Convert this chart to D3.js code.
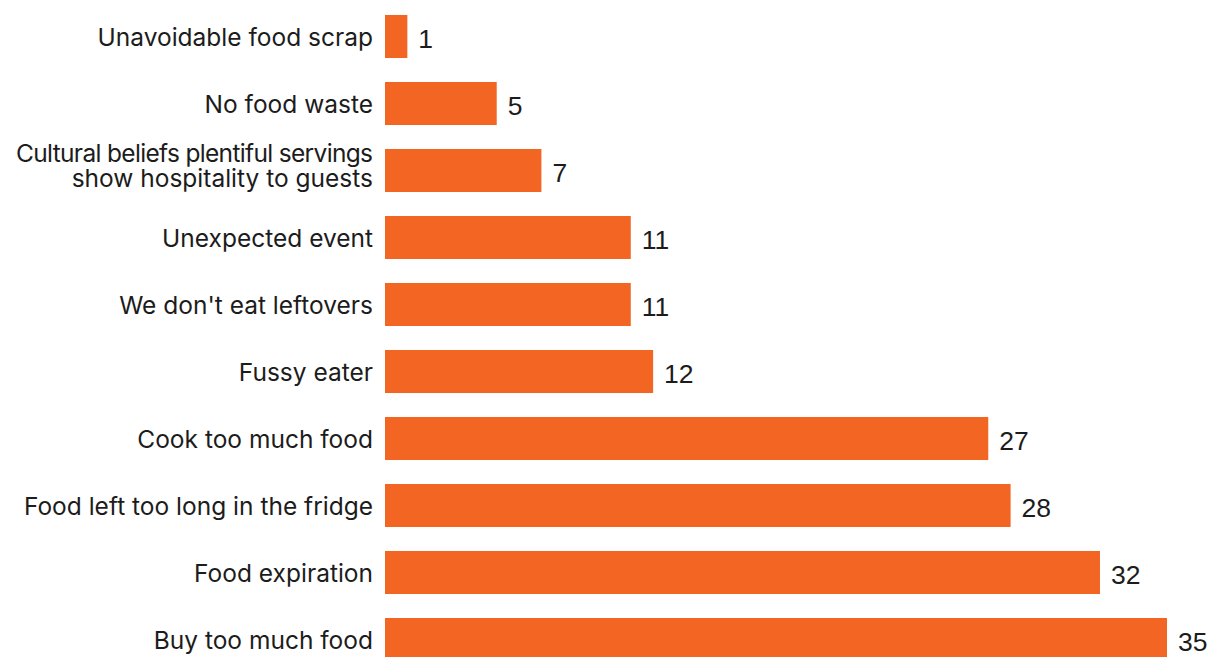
<!DOCTYPE html>
<html>
<head>
<meta charset="utf-8">
<script src="https://cdn.jsdelivr.net/npm/d3@7"></script>
<style>
  html, body { margin: 0; padding: 0; background: #ffffff; }
  svg { display: block; }
</style>
</head>
<body>
<svg id="chart" width="1209" height="657"></svg>
<script>
// Reasons for household food waste (respondents, %)
// "|" marks a line break inside a category label
const categories = [
  "Unavoidable food scrap",
  "No food waste",
  "Cultural beliefs plentiful servings|show hospitality to guests",
  "Unexpected event",
  "We don't eat leftovers",
  "Fussy eater",
  "Cook too much food",
  "Food left too long in the fridge",
  "Food expiration",
  "Buy too much food"
];
const values = [1, 5, 7, 11, 11, 12, 27, 28, 32, 35];

const data = categories.map((c, i) => ({ label: c, value: values[i] }));

const svg = d3.select("#chart");

const x = d3.scaleLinear()
  .domain([0, d3.max(values)])
  .range([385, 1167]);

const y = d3.scaleBand()
  .domain(categories)
  .range([3, 673])
  .paddingInner(0.358)
  .paddingOuter(0.179);

const barColor = "#f26522";
const textColor = "#1c1c1c";
const labelRight = 373;     // right edge of the category labels
const labelMaxWidth = 357;  // room available left of the bars

// bars
svg.append("g")
  .selectAll("rect")
  .data(data)
  .join("rect")
  .attr("x", x(0))
  .attr("y", d => y(d.label))
  .attr("width", d => x(d.value) - x(0))
  .attr("height", y.bandwidth())
  .attr("fill", barColor);

// category labels, right-aligned against the bars
const labels = svg.append("g")
  .attr("font-family", "Inter, 'Noto Sans', sans-serif")
  .attr("font-size", 24.5)
  .attr("fill", textColor)
  .attr("text-anchor", "end");

labels.selectAll("text")
  .data(data)
  .join("text")
  .each(function (d) {
    const lines = d.label.split("|");
    const mid = y(d.label) + y.bandwidth() / 2;
    const lineH = 24.4;
    const first = lines.length > 1 ? mid - 8.2 : mid + 9;
    const t = d3.select(this);
    lines.forEach((l, j) => {
      const ts = t.append("tspan")
        .attr("x", labelRight)
        .attr("y", first + j * lineH)
        .text(l);
      // squeeze letter spacing of any line wider than the margin
      if (ts.node().getComputedTextLength() > labelMaxWidth) {
        ts.attr("textLength", labelMaxWidth).attr("lengthAdjust", "spacing");
      }
    });
  });

// value labels
svg.append("g")
  .attr("font-family", "'Liberation Sans', Arial, Helvetica, sans-serif")
  .attr("font-size", 26.5)
  .attr("fill", textColor)
  .selectAll("text")
  .data(data)
  .join("text")
  .attr("x", d => x(d.value) + 11)
  .attr("y", d => y(d.label) + y.bandwidth() / 2 + 11.7)
  .text(d => d.value);
</script>
</body>
</html>
